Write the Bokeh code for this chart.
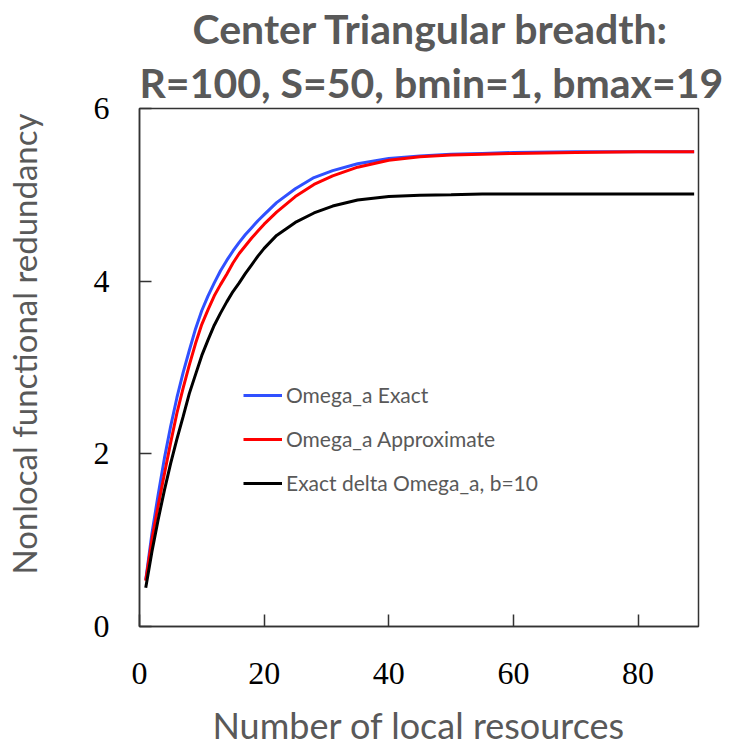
from bokeh.plotting import figure
from bokeh.models import Range1d, Legend, LegendItem, FixedTicker, Title
from bokeh.embed import file_html
from bokeh.resources import INLINE

# ---- data ----
x_vals = [1, 2, 3, 4, 5, 6, 7, 8, 9, 10, 11, 12, 13, 14, 15, 16, 17, 18, 19, 20, 22, 25,
          28, 31, 35, 40, 45, 50, 55, 60, 70, 80, 89]
omega_exact = [0.54, 1.08, 1.53, 1.95, 2.32, 2.65, 2.94, 3.20, 3.45, 3.66, 3.83, 3.98,
               4.12, 4.24, 4.35, 4.45, 4.54, 4.62, 4.70, 4.77, 4.91, 5.07, 5.20, 5.28,
               5.36, 5.42, 5.45, 5.47, 5.48, 5.49, 5.50, 5.50, 5.50]
omega_approx = [0.53, 1.01, 1.40, 1.77, 2.13, 2.47, 2.76, 3.03, 3.28, 3.50, 3.67, 3.83,
                3.96, 4.08, 4.21, 4.32, 4.41, 4.50, 4.58, 4.66, 4.80, 4.98, 5.12, 5.22,
                5.32, 5.40, 5.44, 5.46, 5.47, 5.48, 5.49, 5.50, 5.50]
delta_omega_b10 = [0.45, 0.87, 1.24, 1.58, 1.89, 2.17, 2.43, 2.70, 2.92, 3.14, 3.32, 3.49,
                   3.63, 3.76, 3.88, 3.98, 4.09, 4.19, 4.29, 4.38, 4.53, 4.68, 4.79, 4.87,
                   4.94, 4.98, 4.995, 5.00, 5.01, 5.01, 5.01, 5.01, 5.01]
x_ticks = [0, 20, 40, 60, 80]
y_ticks = [0, 2, 4, 6]
series_names = ["Omega_a Exact", "Omega_a Approximate", "Exact delta Omega_a, b=10"]
title_lines = ["Center Triangular breadth:", "R=100, S=50, bmin=1, bmax=19"]
x_label = "Number of local resources"
y_label = "Nonlocal functional redundancy"

GRAY = "#595959"
SANS = "Lato"

p = figure(width=734, height=749, output_backend="svg", toolbar_location=None,
           x_range=Range1d(0, 89.7), y_range=Range1d(0, 6),
           min_border_left=139, min_border_right=36, min_border_top=107,
           min_border_bottom=121)
p.xgrid.visible = False
p.ygrid.visible = False
p.outline_line_color = "#333333"
p.outline_line_width = 1.5
p.background_fill_color = "white"
p.border_fill_color = "white"

for ax in (p.xaxis[0], p.yaxis[0]):
    ax.axis_line_color = "#333333"
    ax.axis_line_width = 1.5
    ax.major_tick_in = 12
    ax.major_tick_out = 0
    ax.major_tick_line_color = "#333333"
    ax.major_tick_line_width = 1.5
    ax.minor_tick_line_color = None
    ax.major_label_text_font = "Liberation Serif"
    ax.major_label_text_font_size = "32px"
    ax.major_label_text_color = "black"

p.xaxis.ticker = FixedTicker(ticks=x_ticks)
p.yaxis.ticker = FixedTicker(ticks=y_ticks)
p.xaxis.major_label_standoff = 36
p.yaxis.major_label_standoff = 30
p.xaxis.axis_label = x_label
p.xaxis.axis_label_text_font = SANS
p.xaxis.axis_label_text_font_style = "normal"
p.xaxis.axis_label_text_font_size = "36px"
p.xaxis.axis_label_text_color = GRAY
p.xaxis.axis_label_standoff = 16
# blank spacer label to widen the y-axis panel
p.yaxis.axis_label = " "
p.yaxis.axis_label_text_font_size = "10px"
p.yaxis.axis_label_standoff = 32

r1 = p.line(x_vals, omega_exact, line_color="#3050ff", line_width=3)
r2 = p.line(x_vals, omega_approx, line_color="#ff0000", line_width=3)
r3 = p.line(x_vals, delta_omega_b10, line_color="black", line_width=3)

legend = Legend(items=[LegendItem(label=series_names[0], renderers=[r1]),
                       LegendItem(label=series_names[1], renderers=[r2]),
                       LegendItem(label=series_names[2], renderers=[r3])],
                location=(104, 131))
legend.border_line_color = None
legend.background_fill_alpha = 0
legend.padding = 0
legend.margin = 0
legend.glyph_width = 39
legend.glyph_height = 20
legend.label_height = 20
legend.spacing = 19
legend.label_standoff = 4
legend.label_text_font = SANS
legend.label_text_font_size = "21px"
legend.label_text_color = GRAY
p.add_layout(legend, "center")

# title (two lines): the later one added sits further out
p.add_layout(Title(text=title_lines[1], align="left", offset=0, text_font=SANS,
                   text_font_style="bold", text_font_size="41px", text_color=GRAY,
                   standoff=3), "above")
p.add_layout(Title(text=title_lines[0], align="left", offset=53, text_font=SANS,
                   text_font_style="bold", text_font_size="41px", text_color=GRAY,
                   standoff=3), "above")

# y label as a title on the left side
p.add_layout(Title(text=y_label, align="left", offset=52,
                   text_font=SANS, text_font_style="normal", text_font_size="33px",
                   text_color=GRAY, standoff=2), "left")

open("out.html", "w").write(file_html(p, INLINE))
